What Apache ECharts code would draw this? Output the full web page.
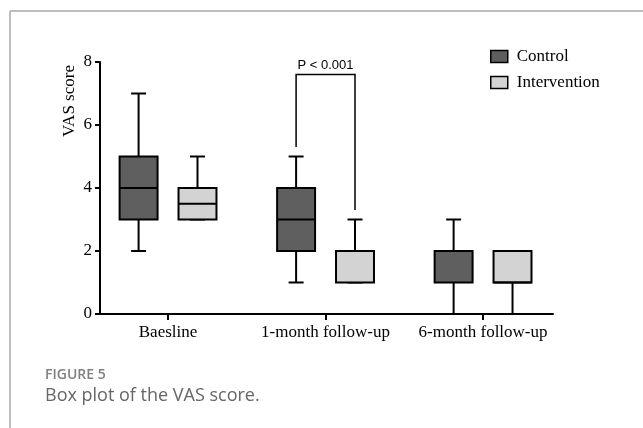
<!DOCTYPE html>
<html>
<head>
<meta charset="utf-8">
<script src="https://cdn.jsdelivr.net/npm/echarts@6/dist/echarts.min.js"></script>
<style>
html,body{margin:0;padding:0;background:#fff;}
#chart{width:643px;height:428px;}
</style>
</head>
<body>
<div id="chart"></div>
<script>
// ---- data ----
const categories = ['Baesline', '1-month follow-up', '6-month follow-up'];
const seriesNames = ['Control', 'Intervention'];
// [min, Q1, median, Q3, max] per category
const controlStats = [
  [2, 3, 4, 5, 7],
  [1, 2, 3, 4, 5],
  [0, 1, 2, 2, 3]
];
const interventionStats = [
  [3, 3, 3.5, 4, 5],
  [1, 1, 2, 2, 3],
  [0, 1, 1, 2, 2]
];
const yTicks = [0, 2, 4, 6, 8];
const yAxisTitle = 'VAS score';
// significance bracket at 1-month follow-up
const sigCategory = 1;
const sigLabel = 'P < 0.001';
const sigTop = 7.6;
const sigLeftBottom = 5.3;
const sigRightBottom = 3.3;
const captionTitle = 'FIGURE 5';
const captionText = 'Box plot of the VAS score.';

// ---- styling ----
const colors = ['#5f5f5f', '#d3d3d3'];
const groupOffset = 0.187;
const boxWidth = 0.241;
const capWidth = 0.095;
const serif = '"Liberation Serif", "Times New Roman", serif';

function boxData(stats) {
  return stats.map((s, i) => [i].concat(s));
}

function makeRender(offset, color) {
  return function (params, api) {
    const c = api.value(0) + offset;
    const mn = api.value(1), q1 = api.value(2), md = api.value(3), q3 = api.value(4), mx = api.value(5);
    const pL = api.coord([c - boxWidth / 2, q3]);
    const pR = api.coord([c + boxWidth / 2, q1]);
    const pC = api.coord([c, 0]);
    const capL = api.coord([c - capWidth / 2, 0])[0];
    const capR = api.coord([c + capWidth / 2, 0])[0];
    const yMin = api.coord([c, mn])[1];
    const yMax = api.coord([c, mx])[1];
    const yMd = api.coord([c, md])[1];
    const line = {stroke: '#000', lineWidth: 2};
    const children = [];
    children.push({type: 'line', shape: {x1: pC[0], y1: yMax, x2: pC[0], y2: pL[1]}, style: line});
    children.push({type: 'line', shape: {x1: pC[0], y1: pR[1], x2: pC[0], y2: yMin}, style: line});
    children.push({type: 'line', shape: {x1: capL, y1: yMax, x2: capR, y2: yMax}, style: line});
    children.push({type: 'line', shape: {x1: capL, y1: yMin, x2: capR, y2: yMin}, style: line});
    children.push({type: 'rect', shape: {x: pL[0], y: pL[1], width: pR[0] - pL[0], height: pR[1] - pL[1]},
      style: {fill: color, stroke: '#000', lineWidth: 2}});
    children.push({type: 'line', shape: {x1: pL[0], y1: yMd, x2: pR[0], y2: yMd}, style: line});
    return {type: 'group', children: children};
  };
}

const chart = echarts.init(document.getElementById('chart'));
chart.setOption({
  backgroundColor: '#fff',
  animation: false,
  grid: {left: 100, right: 90, top: 62, bottom: 114, containLabel: false},
  legend: {
    orient: 'vertical',
    left: 485,
    top: 43,
    itemWidth: 17,
    itemHeight: 12,
    itemGap: 9,
    icon: 'rect',
    textStyle: {fontFamily: serif, fontSize: 17, color: '#000', padding: [0, 0, 0, 4]},
    data: seriesNames.map((n, i) => ({
      name: n,
      itemStyle: {color: colors[i], borderColor: '#000', borderWidth: 1.5}
    }))
  },
  xAxis: {
    type: 'value',
    min: -0.432,
    max: 2.444,
    splitLine: {show: false},
    axisLine: {show: true, onZero: false, lineStyle: {color: '#000', width: 2}},
    axisTick: {show: true, customValues: categories.map((c, i) => i), length: 6, lineStyle: {color: '#000', width: 2}},
    axisLabel: {
      customValues: categories.map((c, i) => i),
      formatter: v => categories[Math.round(v)],
      margin: 10,
      fontFamily: serif, fontSize: 17, color: '#000'
    }
  },
  yAxis: {
    type: 'value',
    min: yTicks[0],
    max: yTicks[yTicks.length - 1],
    interval: 2,
    splitLine: {show: false},
    axisLine: {show: true, onZero: false, lineStyle: {color: '#000', width: 2}},
    axisTick: {show: true, length: 5, lineStyle: {color: '#000', width: 2}},
    axisLabel: {margin: 8, fontFamily: serif, fontSize: 17, color: '#000'}
  },
  series: [
    {
      name: seriesNames[0], type: 'custom', itemStyle: {color: colors[0]},
      renderItem: makeRender(-groupOffset, colors[0]),
      encode: {x: 0, y: [1, 2, 3, 4, 5]},
      data: boxData(controlStats), clip: false
    },
    {
      name: seriesNames[1], type: 'custom', itemStyle: {color: colors[1]},
      renderItem: makeRender(groupOffset, colors[1]),
      encode: {x: 0, y: [1, 2, 3, 4, 5]},
      data: boxData(interventionStats), clip: false
    },
    {
      name: 'sig', type: 'custom', silent: true, clip: false,
      data: [[sigCategory, sigTop, sigLeftBottom, sigRightBottom]],
      encode: {x: 0, y: [1, 2, 3]},
      renderItem: function (params, api) {
        const c = api.value(0);
        const l = api.coord([c - groupOffset, api.value(2)]);
        const r = api.coord([c + groupOffset, api.value(3)]);
        const t = api.coord([c, api.value(1)]);
        return {type: 'group', children: [
          {type: 'polyline', shape: {points: [[l[0], l[1]], [l[0], t[1]], [r[0], t[1]], [r[0], r[1]]]},
            style: {stroke: '#000', lineWidth: 1.5, fill: null}},
          {type: 'text', style: {x: (l[0] + r[0]) / 2, y: t[1] - 3, text: sigLabel,
            fontFamily: '"Liberation Sans", Arial, sans-serif', fontSize: 13, fill: '#000',
            align: 'center', verticalAlign: 'bottom'}}
        ]};
      }
    }
  ],
  graphic: [
    {type: 'line', shape: {x1: 10, y1: 11, x2: 643, y2: 11}, style: {stroke: '#a8a8a8', lineWidth: 1.5}},
    {type: 'line', shape: {x1: 10, y1: 11, x2: 10, y2: 428}, style: {stroke: '#a8a8a8', lineWidth: 1.5}},
    {type: 'text', x: 70, y: 101, rotation: Math.PI / 2,
      style: {text: yAxisTitle, fontFamily: serif, fontSize: 17, fill: '#000', align: 'center', verticalAlign: 'middle'}},
    {type: 'text', left: 45, top: 368, style: {text: captionTitle, fontFamily: '"Open Sans", sans-serif', fontSize: 14, fontWeight: 600, fill: '#808080'}},
    {type: 'text', left: 45, top: 387, style: {text: captionText, fontFamily: '"Open Sans", sans-serif', fontSize: 18, fill: '#666'}}
  ]
});
</script>
</body>
</html>
